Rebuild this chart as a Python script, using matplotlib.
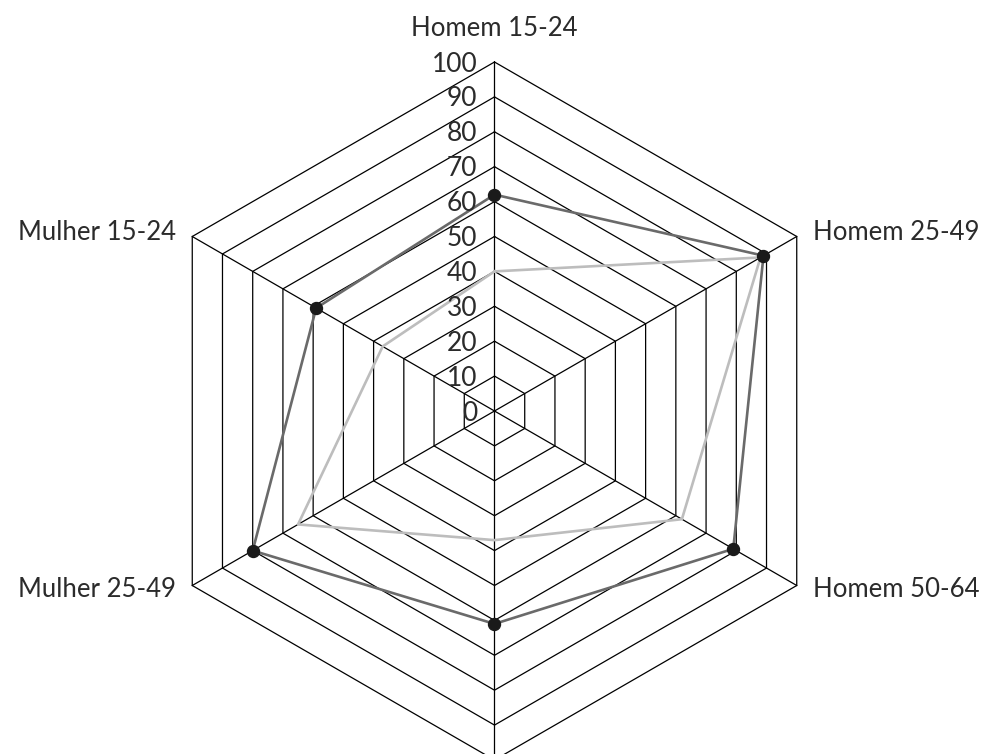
import numpy as np
import matplotlib
matplotlib.use("Agg")
import matplotlib.pyplot as plt

categorias = ['Homem 15-24', 'Homem 25-49', 'Homem 50-64',
              'Mulher 50-64', 'Mulher 25-49', 'Mulher 15-24']
serie_escura = [62, 89, 79, 61, 80, 59]
serie_clara = [40, 88, 62, 37, 65, 37]
niveis = [0, 10, 20, 30, 40, 50, 60, 70, 80, 90, 100]

plt.rcParams['font.family'] = ['Lato', 'DejaVu Sans']

# angles: clockwise from the top
ang = np.deg2rad(90 - 60 * np.arange(len(categorias)))
cs, sn = np.cos(ang), np.sin(ang)

px = 3.49  # pixels per unit
cx, cy = 494.5, 411
fig = plt.figure(figsize=(9.83, 7.54), dpi=100)
ax = fig.add_axes([0, 0, 1, 1])
ax.set_xlim(-cx / px, (983 - cx) / px)
ax.set_ylim(-(754 - cy) / px, cy / px)
ax.axis('off')

# hexagonal grid
for n in niveis[1:]:
    ax.plot(np.append(n * cs, n * cs[0]), np.append(n * sn, n * sn[0]),
            color='black', lw=0.9, zorder=1)
for c, s in zip(cs, sn):
    ax.plot([0, 100 * c], [0, 100 * s], color='black', lw=0.9, zorder=1)

# series
ax.plot(np.append(serie_clara * cs, serie_clara[0] * cs[0]),
        np.append(serie_clara * sn, serie_clara[0] * sn[0]),
        color='#bdbdbd', lw=1.9, zorder=2)
ax.plot(np.append(serie_escura * cs, serie_escura[0] * cs[0]),
        np.append(serie_escura * sn, serie_escura[0] * sn[0]),
        color='#6a6a6a', lw=1.9, zorder=3)
ax.plot(serie_escura * cs, serie_escura * sn, 'o', color='#1a1a1a',
        ms=8.6, zorder=4)

# level labels
for n in niveis:
    ax.text(-17 / px, n - 2 / px, str(n), ha='right', va='center',
            fontsize=19, color='#2b2b2b', zorder=5)

# category labels (the bottom one falls outside the picture)
for nome, c, s in zip(categorias, cs, sn):
    if abs(c) < 0.1:
        if s > 0:
            ax.text(0, 100 * s + 33 / px, nome, ha='center', va='center',
                    fontsize=18.5, color='#2b2b2b')
    else:
        x = 100 * c + np.sign(c) * 16 / px
        ax.text(x, 100 * s + 4 / px * np.sign(s), nome,
                ha='left' if c > 0 else 'right', va='center',
                fontsize=18.5, color='#2b2b2b')

fig.savefig('out.png', dpi=100)
